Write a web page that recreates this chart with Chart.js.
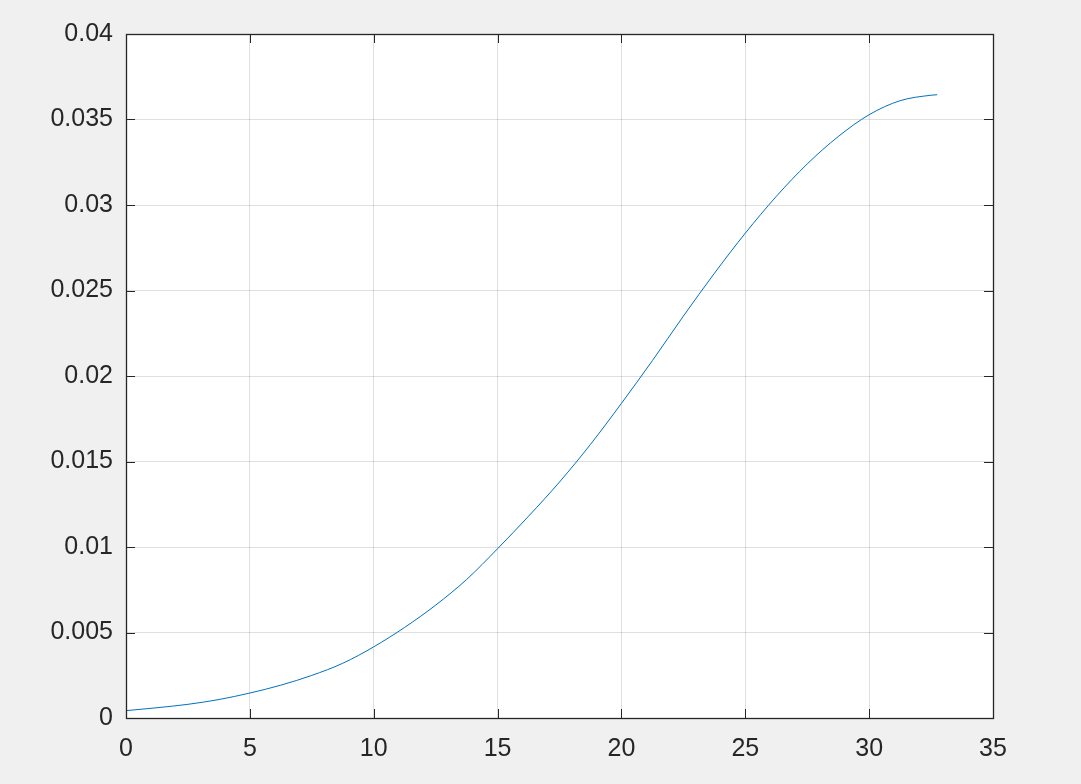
<!DOCTYPE html>
<html>
<head>
<meta charset="utf-8">
<script src="https://cdn.jsdelivr.net/npm/chart.js@4"></script>
<style>
  html, body { margin: 0; padding: 0; background: #f0f0f0; }
  #wrap { width: 1081px; height: 784px; }
</style>
</head>
<body>
<div id="wrap"><canvas id="plot"></canvas></div>
<script>
// values
const xValues = [0, 1.25, 2.5, 3.75, 5, 6.25, 7.5, 8.75, 10, 11.25, 12.5, 13.75, 15,
                 16.25, 17.5, 18.75, 20, 21.25, 22.5, 23.75, 25, 26.25, 27.5, 28.75,
                 30, 31.25, 32.5, 32.75];
const yValues = [0.00043, 0.0006, 0.0008, 0.00108, 0.00146, 0.00192, 0.00249, 0.0032,
                 0.00416, 0.0053, 0.0066, 0.0081, 0.0099, 0.0118, 0.0138, 0.016,
                 0.0184, 0.0209, 0.0235, 0.026, 0.02835, 0.0305, 0.0324, 0.034,
                 0.03528, 0.0361, 0.03642, 0.03645];
const xTicks = [0, 5, 10, 15, 20, 25, 30, 35];
const yTicks = [0, 0.005, 0.01, 0.015, 0.02, 0.025, 0.03, 0.035, 0.04];

const points = xValues.map((x, i) => ({ x: x, y: yValues[i] }));
const axisColor = "#262626";

// white axes background, box and inward ticks like matlab
const boxPlugin = {
    id: "box",
    beforeDraw(chart) {
        const a = chart.chartArea;
        const ctx = chart.ctx;
        ctx.save();
        ctx.fillStyle = "#ffffff";
        ctx.fillRect(a.left, a.top, a.right - a.left, a.bottom - a.top);
        ctx.restore();
    },
    afterDatasetsDraw(chart) {
        const a = chart.chartArea;
        const ctx = chart.ctx;
        const xs = chart.scales.x, ys = chart.scales.y;
        const len = 9;
        ctx.save();
        ctx.strokeStyle = axisColor;
        ctx.lineWidth = 1;
        ctx.beginPath();
        xTicks.forEach(function (t) {
            const px = Math.round(xs.getPixelForValue(t)) + 0.5;
            ctx.moveTo(px, a.bottom); ctx.lineTo(px, a.bottom - len);
            ctx.moveTo(px, a.top); ctx.lineTo(px, a.top + len);
        });
        yTicks.forEach(function (t) {
            const py = Math.round(ys.getPixelForValue(t)) + 0.5;
            ctx.moveTo(a.left, py); ctx.lineTo(a.left + len, py);
            ctx.moveTo(a.right, py); ctx.lineTo(a.right - len, py);
        });
        ctx.stroke();
        ctx.lineWidth = 1.3;
        ctx.strokeRect(Math.round(a.left) + 0.5, Math.round(a.top) + 0.5,
                       Math.round(a.right - a.left), Math.round(a.bottom - a.top));
        ctx.restore();
    }
};

const tickFont = { family: "'Liberation Sans', Arial, sans-serif", size: 25 };

new Chart(document.getElementById("plot"), {
    type: "line",
    data: {
        datasets: [{
            data: points,
            borderColor: "#0072BD",
            borderWidth: 1,
            pointRadius: 0,
            fill: false,
            cubicInterpolationMode: "monotone"
        }]
    },
    options: {
        responsive: true,
        maintainAspectRatio: false,
        animation: false,
        layout: { padding: { top: 34, right: 88, left: 0, bottom: 0 } },
        plugins: { legend: { display: false }, tooltip: { enabled: false } },
        scales: {
            x: {
                type: "linear",
                min: 0, max: 35,
                afterBuildTicks: function (scale) { scale.ticks = xTicks.map(v => ({ value: v })); },
                afterFit: function (scale) { scale.height = 66; },
                grid: { color: "rgba(38,38,38,0.15)", drawTicks: false },
                border: { display: false },
                ticks: { color: axisColor, font: tickFont, padding: 16, maxRotation: 0,
                         callback: v => String(v) }
            },
            y: {
                type: "linear",
                min: 0, max: 0.04,
                afterBuildTicks: function (scale) { scale.ticks = yTicks.map(v => ({ value: v })); },
                afterFit: function (scale) { scale.width = 126; },
                grid: { color: "rgba(38,38,38,0.15)", drawTicks: false },
                border: { display: false },
                ticks: { color: axisColor, font: tickFont, padding: 13,
                         callback: v => String(+v.toFixed(4)) }
            }
        }
    },
    plugins: [boxPlugin]
});
</script>
</body>
</html>
